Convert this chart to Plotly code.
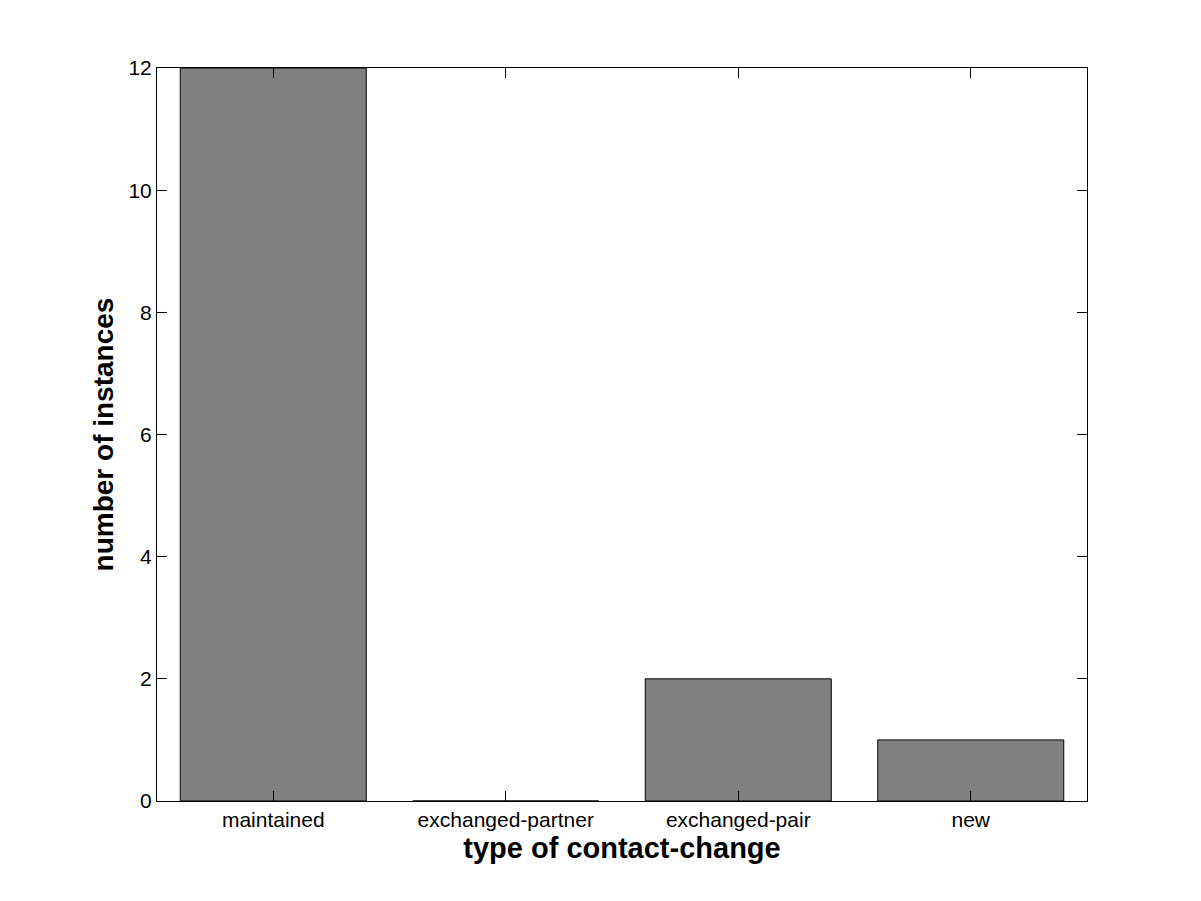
import plotly.graph_objects as go

categories = ["maintained", "exchanged-partner", "exchanged-pair", "new"]
counts = [12, 0, 2, 1]
y_ticks = [0, 2, 4, 6, 8, 10, 12]

fig = go.Figure()
fig.add_trace(go.Bar(
    x=list(range(1, len(categories) + 1)),
    y=counts,
    width=0.8,
    marker=dict(color="#808080", line=dict(color="black", width=1)),
))

font = "Liberation Sans, Arial, sans-serif"
fig.update_layout(
    width=1185, height=885,
    margin=dict(l=149, r=106, t=60, b=92),
    paper_bgcolor="white", plot_bgcolor="white",
    showlegend=False,
    font=dict(family=font, color="black", size=21),
    xaxis=dict(
        range=[0.5, 4.5],
        tickmode="array",
        tickvals=list(range(1, len(categories) + 1)),
        ticktext=categories,
        ticks="inside", ticklen=10, tickcolor="black", tickwidth=1,
        showline=True, linecolor="black", linewidth=1, mirror="ticks",
        showgrid=False, zeroline=False,
        tickfont=dict(size=21, family=font, color="black"),
        title=dict(text="<b>type of contact-change</b>", font=dict(size=29, family=font, color="black"), standoff=7),
    ),
    yaxis=dict(
        range=[0, 12],
        tickmode="array",
        tickvals=y_ticks,
        ticks="inside", ticklen=10, tickcolor="black", tickwidth=1,
        showline=True, linecolor="black", linewidth=1, mirror="ticks",
        showgrid=False, zeroline=False,
        tickfont=dict(size=21, family=font, color="black"),
        title=dict(text="<b>number of instances</b>", font=dict(size=28, family=font, color="black"), standoff=6),
    ),
)

fig.write_html("out.html")
